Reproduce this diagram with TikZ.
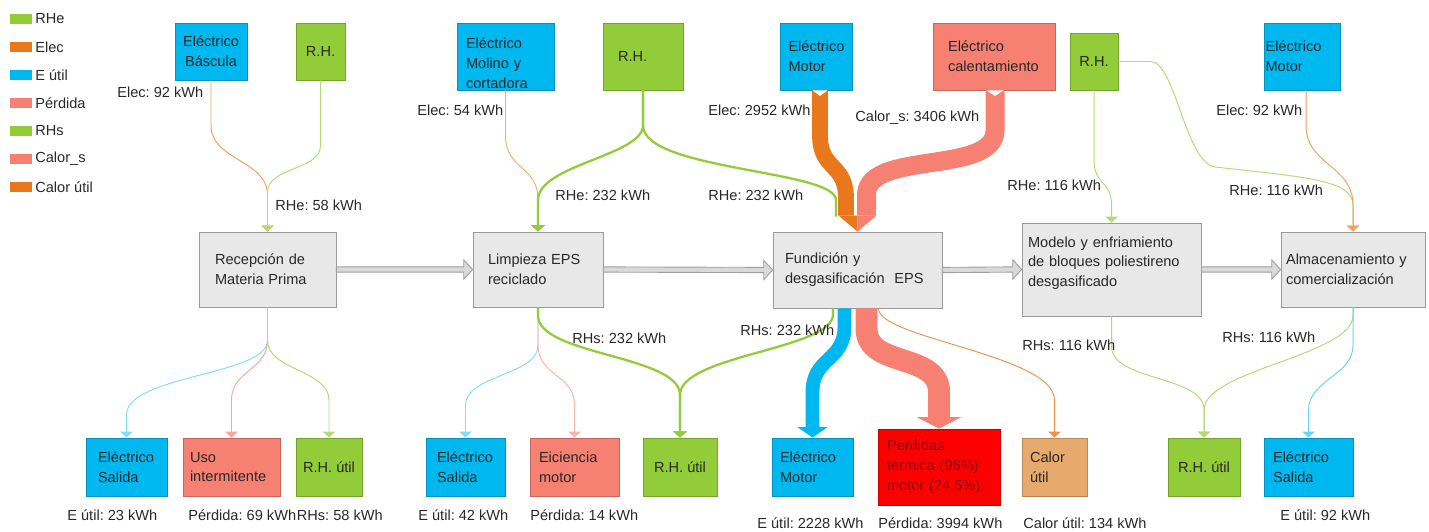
\documentclass[tikz,border=0pt]{standalone}
\usepackage{fontspec}
\setmainfont{Liberation Sans}
\usetikzlibrary{arrows.meta}
\definecolor{rhgreen}{RGB}{146,204,56}
\definecolor{elecorange}{RGB}{233,120,28}
\definecolor{eblue}{RGB}{0,184,240}
\definecolor{lossred}{RGB}{246,128,114}
\definecolor{procgray}{RGB}{232,232,232}
\definecolor{heattan}{RGB}{230,170,108}
\definecolor{inktext}{RGB}{40,40,40}
\tikzset{
  txt/.style={font=\fontsize{8.3}{11.3}\selectfont\frenchspacing, text=inktext},
  blk/.style={txt, rectangle, inner sep=0pt, align=left, line width=0.5pt},
  srcbox/.style={blk, fill=#1, draw=#1!80!black},
  procbox/.style={blk, fill=procgray, draw=gray!80},
  lbl/.style={txt, anchor=west, inner sep=0pt},
  thinflow/.style={line width=0.55pt, -{Triangle[width=7pt,length=3.4pt]}},
  midflow/.style={line width=1.3pt, -{Triangle[width=8pt,length=3.6pt]}},
  procarrow/.style={draw=gray!75, fill=gray!30, line width=0.5pt,
    to path={([yshift=1.5pt]\tikztostart) -- ([xshift=-5pt,yshift=1.5pt]\tikztotarget)
      -- ([xshift=-5pt,yshift=5.5pt]\tikztotarget) -- (\tikztotarget)
      -- ([xshift=-5pt,yshift=-5.5pt]\tikztotarget) -- ([xshift=-5pt,yshift=-1.5pt]\tikztotarget)
      -- ([yshift=-1.5pt]\tikztostart) -- cycle}},
}
\begin{document}
\begin{tikzpicture}[x=0.02cm, y=-0.02cm]
\useasboundingbox (0,0) rectangle (1429,531);

% legend
\foreach \c/\t [count=\i] in {rhgreen/RHe, elecorange/Elec, eblue/E útil, lossred/Pérdida, rhgreen/RHs, lossred/Calor\_s, elecorange/Calor útil} {
  \fill[\c] (10,{-14+28*\i}) rectangle ++(22,10);
  \node[lbl] (leg\i) at (35,{-9+28*\i}) {\t};
}

% sources
\node[srcbox=eblue, minimum width=1.44cm, minimum height=1.14cm, align=center] (basc) at (211,51.5) {Eléctrico\\Báscula};
\node[srcbox=rhgreen, minimum width=0.98cm, minimum height=1.14cm, align=center] (rh1) at (320.5,51.5) {R.H.};
\node[srcbox=eblue, minimum width=1.94cm, minimum height=1.34cm, text width=1.58cm] (molino) at (505.5,56.5) {\rule{0pt}{14pt}Eléctrico\\Molino y\\cortadora};
\node[srcbox=rhgreen, minimum width=1.6cm, minimum height=1.34cm, text width=1.0cm] (rh2) at (643,56.5) {R.H.};
\node[srcbox=eblue, minimum width=1.44cm, minimum height=1.34cm, text width=1.1cm] (motor) at (816,56.5) {Eléctrico\\Motor};
\node[srcbox=lossred, minimum width=2.44cm, minimum height=1.34cm, text width=1.84cm] (calent) at (994,56.5) {Eléctrico\\calentamiento};
\node[srcbox=rhgreen, minimum width=0.96cm, minimum height=1.14cm, align=center] (rh3) at (1094,61.5) {R.H.};
\node[srcbox=eblue, minimum width=1.52cm, minimum height=1.34cm, text width=1.46cm] (motor2) at (1302,56.5) {Eléctrico\\Motor};

% process steps
\node[procbox, minimum width=2.74cm, minimum height=1.5cm, text width=2.1cm] (recep) at (267.5,269.5) {Recepción de\\Materia Prima};
\node[procbox, minimum width=2.6cm, minimum height=1.5cm, text width=2.0cm] (limp) at (538,269.5) {Limpieza EPS\\reciclado};
\node[procbox, minimum width=3.38cm, minimum height=1.52cm, text width=2.9cm] (fund) at (857.5,270) {Fundición y\\desgasificación\ \ EPS};
\node[procbox, minimum width=3.58cm, minimum height=1.86cm, text width=3.34cm] (model) at (1111.5,269.5) {Modelo y enfriamiento\\de bloques poliestireno\\desgasificado\rule[-9pt]{0pt}{9pt}};
\node[procbox, minimum width=2.88cm, minimum height=1.5cm, text width=2.68cm] (almac) at (1353,269.5) {Almacenamiento y\\comercialización};

% outputs
\node[srcbox=eblue, minimum width=1.62cm, minimum height=1.16cm, text width=1.14cm] (sal1) at (126.5,467) {Eléctrico\\Salida};
\node[srcbox=lossred, minimum width=1.94cm, minimum height=1.16cm, text width=1.66cm] (uso) at (231.5,467) {Uso\\intermitente};
\node[srcbox=rhgreen, minimum width=1.32cm, minimum height=1.16cm, align=center] (rhu1) at (329,467) {R.H. útil};
\node[srcbox=eblue, minimum width=1.58cm, minimum height=1.16cm, text width=1.14cm] (sal2) at (465.5,467) {Eléctrico\\Salida};
\node[srcbox=lossred, minimum width=1.78cm, minimum height=1.16cm, text width=1.42cm] (efic) at (574.5,467) {Eiciencia\\motor};
\node[srcbox=rhgreen, minimum width=1.48cm, minimum height=1.16cm, align=center] (rhu2) at (680,467) {R.H. útil};
\node[srcbox=eblue, minimum width=1.62cm, minimum height=1.16cm, text width=1.3cm] (motb) at (812.5,467) {Eléctrico\\Motor};
\node[srcbox=red, text=red!55!black, minimum width=2.44cm, minimum height=1.52cm, text width=2.08cm] (perd) at (939,467) {Perdidas\\térmica (96\%)\\motor (24.5\%)};
\node[srcbox=heattan, minimum width=1.3cm, minimum height=1.16cm, text width=0.98cm] (calu) at (1054.5,467) {Calor\\útil};
\node[srcbox=rhgreen, minimum width=1.44cm, minimum height=1.16cm, align=center] (rhu3) at (1204,467) {R.H. útil};
\node[srcbox=eblue, minimum width=1.78cm, minimum height=1.16cm, text width=1.42cm] (sal3) at (1308.5,467) {Eléctrico\\Salida};

% step arrows
\draw[procarrow] (recep.east) to (limp.west);
\draw[procarrow] (limp.east) to (fund.west);
\draw[procarrow] (fund.east) to (model.west);
\draw[procarrow] (model.east) to (almac.west);

% flows into recepcion
\draw[thinflow, elecorange!70] (basc.south) -- ++(0,45) .. controls +(0,35) and +(0,-35) .. (recep.north |- 0,195) -- (recep.north);
\draw[thinflow, rhgreen!70] (rh1.south) -- ++(0,65) .. controls +(0,25) and +(0,-25) .. (recep.north |- 0,192) -- (recep.north);

% flows into limpieza and fundicion
\draw[thinflow, elecorange!60] (molino.south) -- ++(0,45) .. controls +(0,35) and +(0,-35) .. (limp.north |- 0,200) -- (limp.north);
\draw[midflow, rhgreen] (rh2.south) -- ++(0,35) .. controls +(0,30) and +(0,-35) .. (limp.north |- 0,200) -- (limp.north);
\draw[line width=1.3pt, rhgreen] (rh2.south) -- ++(0,35) .. controls +(0,45) and +(0,-30) .. (836,200) -- ([xshift=-0.43cm,yshift=0.3cm]fund.north);

\coordinate (mtop) at ([xshift=0.08cm]motor.south);
\coordinate (ctop) at ([xshift=0.02cm]calent.south);
\draw[line width=9pt, elecorange] (mtop) -- ++(0,45) .. controls +(0,35) and +(0,-35) .. (846,198) -- ([xshift=-0.23cm,yshift=0.32cm]fund.north);
\draw[line width=10.8pt, lossred] (ctop) -- ++(0,40) .. controls +(0,45) and +(0,-45) .. (866.5,195) -- ([xshift=0.18cm,yshift=0.32cm]fund.north);
\fill[elecorange] ([xshift=-0.38cm,yshift=0.32cm]fund.north) -- ([yshift=0.32cm]fund.north) -- (fund.north) -- cycle;
\fill[lossred] ([yshift=0.32cm]fund.north) -- ([xshift=0.38cm,yshift=0.32cm]fund.north) -- (fund.north) -- cycle;
\fill[white] ([xshift=-0.15cm]mtop) -- ([xshift=0.15cm]mtop) -- ([yshift=-0.11cm]mtop) -- cycle;
\fill[white] ([xshift=-0.17cm]ctop) -- ([xshift=0.17cm]ctop) -- ([yshift=-0.11cm]ctop) -- cycle;

% flows into modelo and almacenamiento
\draw[thinflow, rhgreen!70] (rh3.south) -- ++(0,70) .. controls +(0,25) and +(0,-25) .. (model.north |- 0,205) -- (model.north);
\draw[thinflow, rhgreen!70] (rh3.east) -- ++(32,0) .. controls +(25,0) and +(-30,-5) .. (1215,167) .. controls +(90,10) and +(0,-25) .. (almac.north |- 0,205) -- (almac.north);
\draw[thinflow, elecorange!70] ([xshift=0.08cm]motor2.south) -- ++(0,35) .. controls +(0,40) and +(0,-40) .. (almac.north |- 0,205) -- (almac.north);

% flows out of recepcion
\draw[thinflow, eblue!50] (recep.south) -- ++(0,33) .. controls +(0,35) and +(0,-40) .. (sal1.north |- 0,415) -- (sal1.north);
\draw[thinflow, lossred!70] (recep.south) -- ++(0,33) .. controls +(0,30) and +(0,-30) .. (uso.north |- 0,400) -- (uso.north);
\draw[thinflow, rhgreen!70] (recep.south) -- ++(0,33) .. controls +(0,30) and +(0,-30) .. (rhu1.north |- 0,400) -- (rhu1.north);

% flows out of limpieza
\draw[thinflow, eblue!50] (limp.south) -- ++(0,38) .. controls +(0,30) and +(0,-30) .. (sal2.north |- 0,405) -- (sal2.north);
\draw[thinflow, lossred!60] (limp.south) -- ++(0,38) .. controls +(0,30) and +(0,-30) .. (efic.north |- 0,405) -- (efic.north);
\draw[midflow, rhgreen] (limp.south) -- ++(0,8) .. controls +(0,40) and +(0,-40) .. (rhu2.north |- 0,395) -- (rhu2.north);

% flows out of fundicion
\draw[midflow, rhgreen] ([xshift=-0.49cm]fund.south) -- ++(0,6) .. controls +(0,35) and +(0,-40) .. (rhu2.north |- 0,395) -- (rhu2.north);
\draw[line width=7.9pt, eblue, -{Triangle[width=17pt,length=6pt]}] ([xshift=-0.26cm]fund.south) -- ++(0,18) .. controls +(0,35) and +(0,-35) .. (motb.north |- 0,392) -- (motb.north);
\draw[line width=12.5pt, lossred, -{Triangle[width=25pt,length=6.5pt]}] ([xshift=0.18cm]fund.south) -- ++(0,20) .. controls +(0,40) and +(0,-40) .. (perd.north |- 0,392) -- (perd.north);
\draw[thinflow, elecorange!80] ([xshift=0.42cm]fund.south) .. controls +(0,30) and +(0,-45) .. (calu.north |- 0,400) -- (calu.north);

% flows out of modelo and almacenamiento
\draw[thinflow, rhgreen!70] (model.south) -- ++(0,30) .. controls +(0,35) and +(0,-35) .. (rhu3.north |- 0,410) -- (rhu3.north);
\draw[thinflow, rhgreen!70] (almac.south) -- ++(0,8) .. controls +(0,40) and +(0,-40) .. (rhu3.north |- 0,410) -- (rhu3.north);
\draw[thinflow, eblue!60] (almac.south) -- ++(0,38) .. controls +(0,30) and +(0,-30) .. (sal3.north |- 0,410) -- (sal3.north);

% values
\node[lbl] (v1) at (117,92) {Elec: 92 kWh};
\node[lbl] (v2) at (275,205) {RHe: 58 kWh};
\node[lbl] (v3) at (417,110) {Elec: 54 kWh};
\node[lbl] (v4) at (555,195) {RHe: 232 kWh};
\node[lbl] (v5) at (708,195) {RHe: 232 kWh};
\node[lbl] (v6) at (708,110) {Elec: 2952 kWh};
\node[lbl] (v7) at (855,118) {Calor\_s: 3406 kWh};
\node[lbl] (v8) at (1007,185) {RHe: 116 kWh};
\node[lbl] (v9) at (1229,190) {RHe: 116 kWh};
\node[lbl] (v10) at (1216,110) {Elec: 92 kWh};
\node[lbl] (v11) at (572,338) {RHs: 232 kWh};
\node[lbl] (v12) at (740,330) {RHs: 232 kWh};
\node[lbl] (v13) at (1022,345) {RHs: 116 kWh};
\node[lbl] (v14) at (1222,337) {RHs: 116 kWh};
\node[lbl] (v15) at (67,515) {E útil: 23 kWh};
\node[lbl] (v16) at (188,515) {Pérdida: 69 kWh};
\node[lbl] (v17) at (v16.east) {RHs: 58 kWh};
\node[lbl] (v18) at (418,515) {E útil: 42 kWh};
\node[lbl] (v19) at (530,515) {Pérdida: 14 kWh};
\node[lbl] (v20) at (757,523) {E útil: 2228 kWh};
\node[lbl] (v21) at (878,523) {Pérdida: 3994 kWh};
\node[lbl] (v22) at (1023,523) {Calor útil: 134 kWh};
\node[lbl] (v23) at (1280,515) {E útil: 92 kWh};
\end{tikzpicture}
\end{document}
